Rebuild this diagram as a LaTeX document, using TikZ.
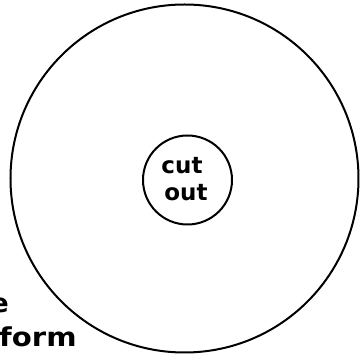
\documentclass[tikz,border=0pt]{standalone}
\usepackage{fontspec}
\newfontfamily\handfont{DejaVu Sans}
\begin{document}
\begin{tikzpicture}[x=1pt,y=1pt,
  ring/.style={draw=black,line width=2pt,circle,inner sep=0pt},
  hand/.style={text=black,inner sep=0pt}]
\useasboundingbox (0,0) rectangle (360,356);
\node[ring,minimum size=348pt] (outer) at (184.5,177.5) {};
\node[ring,minimum size=89pt] (inner) at (187.5,176) {};
\node[hand,font=\handfont\bfseries\fontsize{23}{23}\selectfont] (cut) at (182,190) {cut};
\node[hand,font=\handfont\bfseries\fontsize{23}{23}\selectfont] (out) at (186,163) {out};
\node[hand,font=\handfont\bfseries\fontsize{26}{26}\selectfont,anchor=base east] (e) at (9,43) {e};
\node[hand,font=\handfont\bfseries\fontsize{26}{26}\selectfont,anchor=base west,xscale=1.12] (form) at (-1,9) {form};
\end{tikzpicture}
\end{document}
